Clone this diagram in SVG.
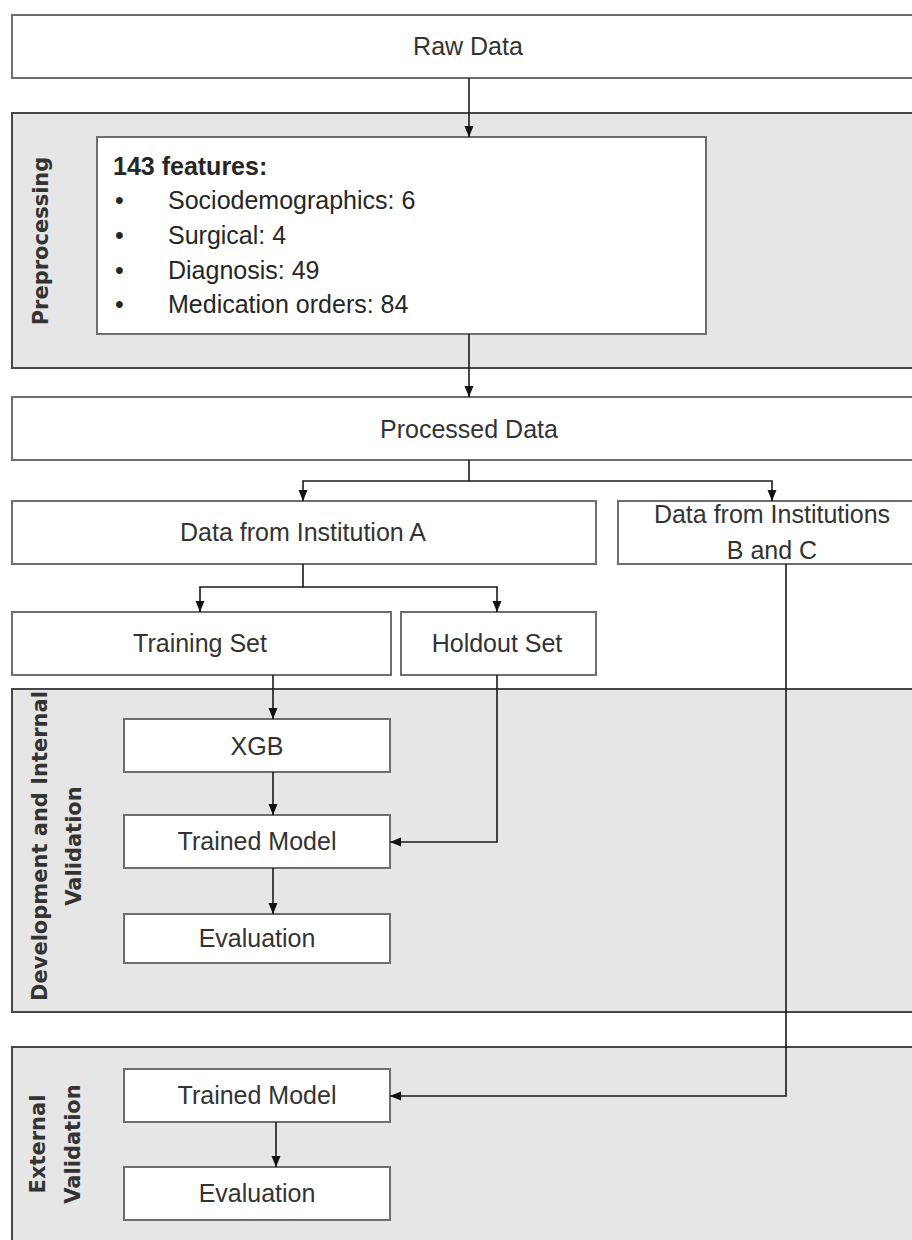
<svg xmlns="http://www.w3.org/2000/svg" width="912" height="1240" viewBox="0 0 912 1240">
<style>
  .box { fill: #ffffff; stroke: #6e6e6e; stroke-width: 2; }
  .panel { fill: #e6e6e6; stroke: #474747; stroke-width: 2; }
  .t { font-family: "Liberation Sans", Arial, sans-serif; font-size: 25px; fill: #333333; text-anchor: middle; }
  .tl { font-family: "Liberation Sans", Arial, sans-serif; font-size: 25px; fill: #262626; }
  .b { font-weight: bold; }
  .lab { font-family: "DejaVu Sans", Verdana, sans-serif; font-size: 21px; font-weight: bold; fill: #333333; text-anchor: middle; }
  .c { fill: none; stroke: #1a1a1a; stroke-width: 1.6; }
</style>
<defs>
  <marker id="ah" markerUnits="userSpaceOnUse" markerWidth="12" markerHeight="12" viewBox="0 0 12 12" refX="11" refY="6" orient="auto">
    <path d="M0,1.5 L11,6 L0,10.5 Z" fill="#111111"/>
  </marker>
</defs>

<g id="panel-preprocessing">
  <rect class="panel" x="12" y="113" width="910" height="255"/>
  <text class="lab" transform="translate(48,241) rotate(-90)">Preprocessing</text>
</g>
<g id="panel-development">
  <rect class="panel" x="12" y="689" width="910" height="323"/>
  <text class="lab" transform="translate(47,846) rotate(-90)">Development and Internal</text>
  <text class="lab" transform="translate(81,846) rotate(-90)">Validation</text>
</g>
<g id="panel-external">
  <rect class="panel" x="12" y="1047" width="910" height="210"/>
  <text class="lab" transform="translate(45,1144) rotate(-90)">External</text>
  <text class="lab" transform="translate(80,1144) rotate(-90)">Validation</text>
</g>

<g id="node-raw">
  <rect class="box" x="12" y="15" width="910" height="63"/>
  <text class="t" x="468" y="55">Raw Data</text>
</g>
<g id="node-features">
  <rect class="box" x="97" y="137" width="609" height="197"/>
  <text class="tl b" x="113" y="175">143 features:</text>
  <text class="tl" x="115" y="209">•</text>
  <text class="tl" x="168" y="209">Sociodemographics: 6</text>
  <text class="tl" x="115" y="244">•</text>
  <text class="tl" x="168" y="244">Surgical: 4</text>
  <text class="tl" x="115" y="279">•</text>
  <text class="tl" x="168" y="279">Diagnosis: 49</text>
  <text class="tl" x="115" y="313">•</text>
  <text class="tl" x="168" y="313">Medication orders: 84</text>
</g>
<g id="node-processed">
  <rect class="box" x="12" y="397" width="910" height="63"/>
  <text class="t" x="469" y="438">Processed Data</text>
</g>
<g id="node-instA">
  <rect class="box" x="12" y="501" width="584" height="63"/>
  <text class="t" x="303" y="541">Data from Institution A</text>
</g>
<g id="node-instBC">
  <rect class="box" x="618" y="501" width="304" height="63"/>
  <text class="t" x="772" y="523">Data from Institutions</text>
  <text class="t" x="772" y="559">B and C</text>
</g>
<g id="node-training">
  <rect class="box" x="12" y="612" width="379" height="63"/>
  <text class="t" x="200" y="652">Training Set</text>
</g>
<g id="node-holdout">
  <rect class="box" x="401" y="612" width="195" height="63"/>
  <text class="t" x="497" y="652">Holdout Set</text>
</g>
<g id="node-xgb">
  <rect class="box" x="124" y="719" width="266" height="53"/>
  <text class="t" x="257" y="755">XGB</text>
</g>
<g id="node-trained-int">
  <rect class="box" x="124" y="815" width="266" height="53"/>
  <text class="t" x="257" y="850">Trained Model</text>
</g>
<g id="node-eval-int">
  <rect class="box" x="124" y="914" width="266" height="49"/>
  <text class="t" x="257" y="947">Evaluation</text>
</g>
<g id="node-trained-ext">
  <rect class="box" x="124" y="1069" width="266" height="53"/>
  <text class="t" x="257" y="1104">Trained Model</text>
</g>
<g id="node-eval-ext">
  <rect class="box" x="124" y="1167" width="266" height="53"/>
  <text class="t" x="257" y="1202">Evaluation</text>
</g>

<g id="connectors">
  <path class="c" d="M469,78 V137" marker-end="url(#ah)"/>
  <path class="c" d="M469,334 V397" marker-end="url(#ah)"/>
  <path class="c" d="M469,460 V481 H303 V501" marker-end="url(#ah)"/>
  <path class="c" d="M469,481 H772 V501" marker-end="url(#ah)"/>
  <path class="c" d="M303,564 V587 H200 V612" marker-end="url(#ah)"/>
  <path class="c" d="M303,587 H497 V612" marker-end="url(#ah)"/>
  <path class="c" d="M273,675 V719" marker-end="url(#ah)"/>
  <path class="c" d="M273,772 V815" marker-end="url(#ah)"/>
  <path class="c" d="M273,868 V914" marker-end="url(#ah)"/>
  <path class="c" d="M497,675 V842 H390" marker-end="url(#ah)"/>
  <path class="c" d="M786,564 V1096 H390" marker-end="url(#ah)"/>
  <path class="c" d="M276,1122 V1167" marker-end="url(#ah)"/>
</g>
</svg>
